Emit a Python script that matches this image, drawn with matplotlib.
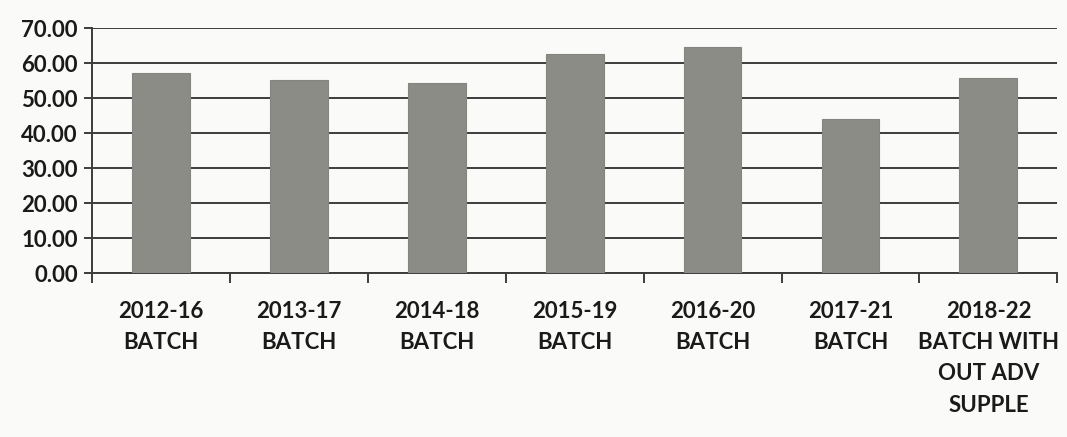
import matplotlib
matplotlib.use("Agg")
import matplotlib.pyplot as plt
import numpy as np

categories = ["2012-16\nBATCH", "2013-17\nBATCH", "2014-18\nBATCH", "2015-19\nBATCH",
              "2016-20\nBATCH", "2017-21\nBATCH", "2018-22\nBATCH WITH\nOUT ADV\nSUPPLE"]
values = [57.3, 55.2, 54.4, 62.7, 64.8, 44.0, 55.7]
yticks = [0, 10, 20, 30, 40, 50, 60, 70]

plt.rcParams['font.family'] = ['Lato', 'DejaVu Sans']

fig = plt.figure(figsize=(10.67, 4.37), dpi=100, facecolor='#fafaf8')
ax = fig.add_axes([0.086, 0.375, 0.905, 0.56])
ax.set_facecolor('#fafaf8')

x = np.arange(len(categories))
ax.bar(x, values, width=0.42, color='#8c8c87', edgecolor='#85857f', linewidth=0.8, zorder=3)

ax.set_ylim(0, 70)
ax.set_xlim(-0.5, len(categories) - 0.5)
ax.set_yticks(yticks)
ax.set_yticklabels([f"{v:.2f}" for v in yticks], fontsize=16, fontweight='bold', color='#1a1a1a')
ax.yaxis.grid(True, color='#3c3c3c', linewidth=1.4, zorder=0)
ax.set_axisbelow(True)

ax.set_xticks(x)
ax.set_xticklabels(categories, fontsize=16, fontweight='bold', color='#1a1a1a', linespacing=1.6, va='top')
ax.tick_params(axis='x', length=0, pad=20)
ax.set_xticks(np.arange(len(categories) + 1) - 0.5, minor=True)
ax.tick_params(axis='x', which='minor', length=7, width=1.4, color='#3c3c3c', direction='out')
ax.tick_params(axis='y', length=6, width=1.4, color='#3c3c3c', direction='out', pad=4)

for s in ['top', 'right']:
    ax.spines[s].set_visible(False)
for s in ['left', 'bottom']:
    ax.spines[s].set_color('#3c3c3c')
    ax.spines[s].set_linewidth(1.4)

fig.savefig("out.png", dpi=100, facecolor=fig.get_facecolor())
